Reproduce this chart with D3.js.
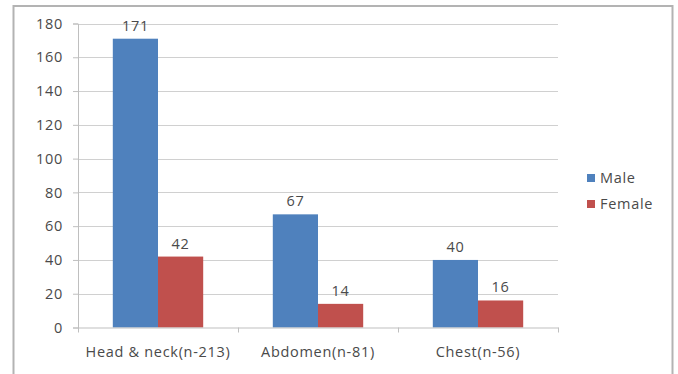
<!DOCTYPE html>
<html>
<head>
<meta charset="utf-8">
<script src="https://cdn.jsdelivr.net/npm/d3@7/dist/d3.min.js"></script>
<style>
  html, body { margin: 0; padding: 0; background: #fff; overflow: hidden; }
  svg { display: block; }
  text { font-family: "Open Sans", "Liberation Sans", sans-serif; fill: #4a4a4a; letter-spacing: 0.7px; }
</style>
</head>
<body>
<svg id="chart" width="678" height="374"></svg>
<script>
// Cases by body region, split by sex
const categories = ["Head & neck(n-213)", "Abdomen(n-81)", "Chest(n-56)"];
const seriesNames = ["Male", "Female"];
const maleValues = [171, 67, 40];
const femaleValues = [42, 14, 16];
const yTicks = [0, 20, 40, 60, 80, 100, 120, 140, 160, 180];
const colors = ["#4F81BD", "#C0504D"];

const values = [maleValues, femaleValues];
const rows = categories.map((c, i) => ({
  category: c,
  items: seriesNames.map((s, j) => ({ series: s, value: values[j][i] }))
}));

const FONT = 14.5;
const svg = d3.select("#chart");
const plot = { left: 78, right: 558, top: 23.5, bottom: 327.5 };

// outer chart frame (bottom edge runs past the visible area)
svg.append("rect")
  .attr("x", 13.5).attr("y", 6)
  .attr("width", 659).attr("height", 380)
  .attr("fill", "#fff")
  .attr("stroke", "#b3b3b3")
  .attr("stroke-width", 2);

const x = d3.scaleBand()
  .domain(categories)
  .range([plot.left, plot.right])
  .paddingInner(0)
  .paddingOuter(0);

const xInner = d3.scaleBand()
  .domain(seriesNames)
  .range([0, x.bandwidth()])
  .paddingInner(0)
  .paddingOuter(0.77);

const y = d3.scaleLinear()
  .domain([0, 180])
  .range([plot.bottom, plot.top]);

// horizontal gridlines
svg.append("g")
  .selectAll("line")
  .data(yTicks.filter(t => t > 0))
  .join("line")
  .attr("x1", plot.left).attr("x2", plot.right)
  .attr("y1", d => Math.round(y(d)) + 0.5)
  .attr("y2", d => Math.round(y(d)) + 0.5)
  .attr("stroke", "#d0d0d0")
  .attr("stroke-width", 1);

// y axis
const yAxis = svg.append("g")
  .attr("transform", `translate(${plot.left},0)`)
  .call(d3.axisLeft(y).tickValues(yTicks).tickSize(5).tickPadding(10));
yAxis.select(".domain").attr("stroke", "#bfbfbf");
yAxis.selectAll(".tick line").attr("stroke", "#bfbfbf");
yAxis.selectAll(".tick text")
  .attr("font-size", FONT)
  .attr("fill", "#4a4a4a")
  .style("font-family", "'Open Sans', sans-serif");

// bars
const groups = svg.append("g")
  .selectAll("g")
  .data(rows)
  .join("g")
  .attr("transform", d => `translate(${x(d.category)},0)`);

groups.selectAll("rect")
  .data(d => d.items)
  .join("rect")
  .attr("x", d => xInner(d.series))
  .attr("width", xInner.bandwidth())
  .attr("y", d => y(d.value))
  .attr("height", d => y(0) - y(d.value))
  .attr("fill", (d, i) => colors[i]);

// value labels above bars
groups.selectAll("text.val")
  .data(d => d.items)
  .join("text")
  .attr("class", "val")
  .attr("x", d => xInner(d.series) + xInner.bandwidth() / 2)
  .attr("y", d => y(d.value) - 8)
  .attr("text-anchor", "middle")
  .attr("font-size", FONT)
  .text(d => d.value);

// x axis
const xAxis = svg.append("g")
  .attr("transform", `translate(0,${plot.bottom})`)
  .call(d3.axisBottom(x).tickSize(0).tickPadding(19));
xAxis.select(".domain").attr("stroke", "#bfbfbf");
xAxis.selectAll(".tick text")
  .attr("font-size", FONT)
  .attr("fill", "#4a4a4a")
  .style("font-family", "'Open Sans', sans-serif");

// category boundary ticks
svg.append("g")
  .selectAll("line")
  .data([0, 1, 2, 3])
  .join("line")
  .attr("x1", i => (i < 3 ? x(categories[i]) : plot.right) + 0.5)
  .attr("x2", i => (i < 3 ? x(categories[i]) : plot.right) + 0.5)
  .attr("y1", plot.bottom)
  .attr("y2", plot.bottom + 5)
  .attr("stroke", "#bfbfbf");

// legend
const legend = svg.append("g")
  .selectAll("g")
  .data(seriesNames)
  .join("g")
  .attr("transform", (d, i) => `translate(587,${174 + i * 26})`);
legend.append("rect")
  .attr("width", 8).attr("height", 8)
  .attr("fill", (d, i) => colors[i]);
legend.append("text")
  .attr("x", 13).attr("y", 4)
  .attr("dy", "0.35em")
  .attr("font-size", FONT)
  .text(d => d);
</script>
</body>
</html>
